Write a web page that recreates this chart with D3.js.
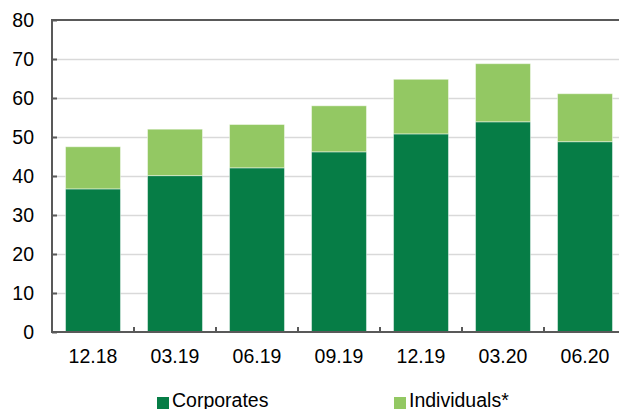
<!DOCTYPE html>
<html>
<head>
<meta charset="utf-8">
<script src="https://cdn.jsdelivr.net/npm/d3@7"></script>
<style>
  body { margin: 0; background: #fff; }
  svg { display: block; font-family: "Liberation Sans", Arial, sans-serif; }
</style>
</head>
<body>
<div id="chart"></div>
<script>
let width = 619
let height = 409

// data
let periods = ['12.18', '03.19', '06.19', '09.19', '12.19', '03.20', '06.20']
let corporates = [36.7, 40.1, 42.1, 46.2, 50.8, 53.9, 48.8]
let individuals = [10.8, 11.9, 11.1, 11.8, 14.0, 14.9, 12.3]
let yTicks = [0, 10, 20, 30, 40, 50, 60, 70, 80]
let seriesNames = ['Corporates', 'Individuals*']

let colors = ['#067d46', '#93c863']

let svg = d3.select('#chart')
            .append('svg')
            .attr('width', width)
            .attr('height', height)

// plot area runs past the right edge of the picture
let plotLeft = 52, plotRight = 626, plotTop = 20, plotBottom = 332

let xScale = d3.scaleBand()
               .domain(periods)
               .range([plotLeft, plotRight])
               .paddingInner(0.33)
               .paddingOuter(0.165)

let yScale = d3.scaleLinear()
               .domain([0, 80])
               .range([plotBottom, plotTop])

// -- gridlines
svg.append('g')
   .attr('transform', `translate(${plotLeft}, 0)`)
   .call(d3.axisLeft(yScale).tickValues(yTicks.slice(1, -1)).tickSize(-(plotRight - plotLeft)).tickFormat(''))
   .call(g => g.select('.domain').remove())
   .call(g => g.selectAll('line').attr('stroke', '#d9d9d9').attr('stroke-width', 1.5))

// -- stacked bars
let rows = periods.map((p, i) => ({ period: p, Corporates: corporates[i], 'Individuals*': individuals[i] }))
let stacked = d3.stack().keys(seriesNames)(rows)

svg.selectAll('.layer')
   .data(stacked)
   .enter()
   .append('g')
   .attr('class', 'layer')
   .attr('fill', (d, i) => colors[i])
   .selectAll('rect')
   .data(d => d)
   .enter()
   .append('rect')
   .attr('x', d => xScale(d.data.period))
   .attr('y', d => yScale(d[1]))
   .attr('width', xScale.bandwidth())
   .attr('height', d => yScale(d[0]) - yScale(d[1]))
   .attr('stroke', 'rgba(255,255,255,0.45)')
   .attr('stroke-width', 1)

// -- frame (top line + axes)
let axisColor = '#595959'
svg.append('rect')
   .attr('x', plotLeft)
   .attr('y', plotTop)
   .attr('width', plotRight - plotLeft)
   .attr('height', plotBottom - plotTop)
   .attr('fill', 'none')
   .attr('stroke', axisColor)
   .attr('stroke-width', 2)

// -- Y axis
svg.append('g')
   .attr('transform', `translate(${plotLeft}, 0)`)
   .call(d3.axisLeft(yScale).tickValues(yTicks).tickSize(-5).tickPadding(18))
   .call(g => g.select('.domain').remove())
   .call(g => g.selectAll('line').attr('stroke', axisColor).attr('stroke-width', 2))
   .call(g => g.selectAll('text').attr('fill', '#000').style('font-size', '19.5px'))

// -- X axis
svg.append('g')
   .attr('transform', `translate(0, ${plotBottom})`)
   .call(d3.axisBottom(xScale).tickSize(0).tickPadding(17))
   .call(g => g.select('.domain').remove())
   .call(g => g.selectAll('text').attr('fill', '#000').style('font-size', '19.5px'))

// ticks between categories, pointing up
let step = xScale.step()
let boundaries = periods.slice(1).map(p => xScale(p) - (step - xScale.bandwidth()) / 2)
svg.selectAll('.xtick')
   .data(boundaries)
   .enter()
   .append('line')
   .attr('class', 'xtick')
   .attr('x1', d => d).attr('x2', d => d)
   .attr('y1', plotBottom).attr('y2', plotBottom - 5)
   .attr('stroke', axisColor)
   .attr('stroke-width', 2)

// -- legend
let legendX = [157, 394]
let legend = svg.selectAll('.legend')
                .data(seriesNames)
                .enter()
                .append('g')
                .attr('class', 'legend')
                .attr('transform', (d, i) => `translate(${legendX[i]}, 0)`)
legend.append('rect')
      .attr('x', 0).attr('y', 397)
      .attr('width', 12).attr('height', 12)
      .attr('fill', (d, i) => colors[i])
legend.append('text')
      .attr('x', 15).attr('y', 407)
      .style('font-size', '19.5px')
      .attr('fill', '#000')
      .text(d => d)
</script>
</body>
</html>
